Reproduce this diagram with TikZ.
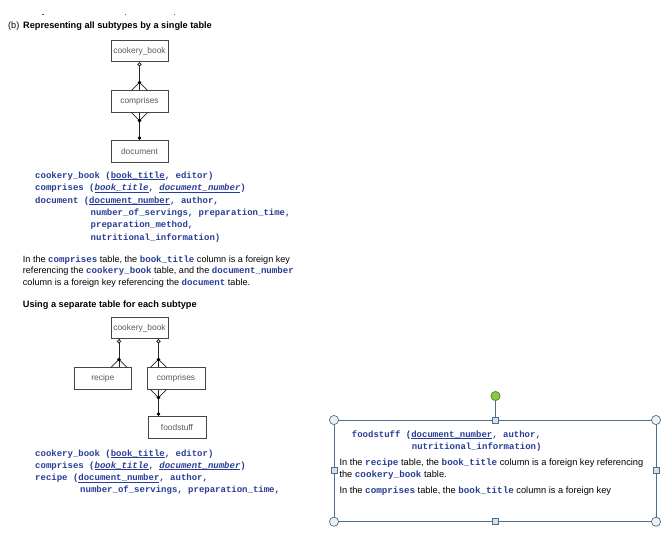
\documentclass[tikz,border=0pt]{standalone}
\usepackage{fontspec}
\setmainfont{Liberation Sans}
\newfontfamily\codefont{Liberation Mono}
\usetikzlibrary{calc}
\definecolor{codeblue}{RGB}{40,62,150}
\definecolor{boxgray}{RGB}{70,70,70}
\definecolor{labgray}{RGB}{90,90,90}
\definecolor{selline}{RGB}{85,110,135}
\definecolor{selfill}{RGB}{236,240,245}
\definecolor{sqfill}{RGB}{205,226,244}
\definecolor{grfill}{RGB}{140,200,70}
\definecolor{grline}{RGB}{95,140,50}
\newcommand\cd[1]{{\codefont\bfseries\color{codeblue}#1}}
\newcommand\ukey[1]{\sbox0{#1}\usebox0\kern-\wd0\rule[-1.9pt]{\wd0}{0.6pt}}
\tikzset{
  ent/.style={draw=boxgray, line width=0.7pt, minimum width=57pt, minimum height=21.5pt,
    inner sep=0pt, font=\fontsize{8.4}{10}\selectfont, text=labgray},
  conn/.style={draw=black!85, line width=0.8pt},
  code/.style={anchor=base west, inner sep=0pt, font=\codefont\bfseries\fontsize{9}{11}\selectfont, text=codeblue},
  body/.style={anchor=base west, inner sep=0pt, font=\fontsize{9.1}{11}\selectfont},
  bodyr/.style={anchor=base west, inner sep=0pt, font=\fontsize{9.25}{11}\selectfont},
  head/.style={anchor=base west, inner sep=0pt, font=\bfseries\fontsize{9.2}{11}\selectfont},
  corner/.style={draw=selline, fill=selfill, line width=0.7pt},
  sqhandle/.style={draw=selline, fill=sqfill, line width=0.7pt, minimum size=6pt, inner sep=0pt},
}
\newcommand\footup[1]{\draw[conn] ($(#1)+(-8,0)$) -- ($(#1)+(0,-8)$) -- ($(#1)+(8,0)$); \fill[black] ($(#1)+(0,-8)$) circle (1.9);}
\newcommand\footdown[1]{\draw[conn] ($(#1)+(-8,0)$) -- ($(#1)+(0,8)$) -- ($(#1)+(8,0)$); \fill[black] ($(#1)+(0,8)$) circle (1.9);}
\newcommand\opend[1]{\draw[conn, fill=white] ($(#1)+(0,2.2)$) circle (1.7);}
\newcommand\oned[1]{\fill[black] ($(#1)+(0,-2.4)$) circle (1.9);}
\begin{document}
\begin{tikzpicture}[x=1pt, y=-1pt]
\useasboundingbox (0,0) rectangle (672,536);
\fill[white] (0,0) rectangle (672,536);
% fragments of the cut line above
\fill[black!70] (41.5,14) rectangle (44,15.2);
\fill[black!60] (124.5,14) rectangle (125.7,15.2);
\fill[black!60] (173.5,14) rectangle (174.7,15.2);
% heading
\node[body] (hb) at (8,28) {(b)};
\node[head] (ht) at (23,28) {Representing all subtypes by a single table};
% first diagram
\node[ent] (cb1) at (139.5,51) {cookery\_book};
\node[ent] (cp1) at (139.5,101.5) {comprises};
\node[ent] (dc1) at (139.5,151.5) {document};
\draw[conn] (cb1.south) -- (cp1.north);
\draw[conn] (cp1.south) -- (dc1.north);
\opend{cb1.south}
\footup{cp1.north}
\footdown{cp1.south}
\oned{dc1.north}
% first code block
\node[code] (c1) at (35,178) {cookery\_book (\ukey{book\_title}, editor)};
\node[code] (c2) at (35,190.5) {comprises (\ukey{\itshape book\_title}, \ukey{\itshape document\_number})};
\node[code] (c3) at (35,203) {document (\ukey{document\_number}, author,};
\node[code] (c4) at (90.5,215.3) {number\_of\_servings, preparation\_time,};
\node[code] (c5) at (90.5,227.7) {preparation\_method,};
\node[code] (c6) at (90.5,240) {nutritional\_information)};
% paragraph
\node[body] (p1) at (22.7,262) {In the \cd{comprises} table, the \cd{book\_title} column is a foreign key};
\node[body] (p2) at (22.7,273.5) {referencing the \cd{cookery\_book} table, and the \cd{document\_number}};
\node[body] (p3) at (22.7,285) {column is a foreign key referencing the \cd{document} table.};
\node[head] (h2) at (22.7,307) {Using a separate table for each subtype};
% second diagram
\node[ent] (cb2) at (139.5,328) {cookery\_book};
\node[ent, minimum width=56.5pt] (rc) at (102.8,378.5) {recipe};
\node[ent, minimum width=58pt] (cp2) at (176,378.5) {comprises};
\node[ent, minimum width=58pt] (fs) at (177,427.5) {foodstuff};
\coordinate (lx1) at (119,0);
\coordinate (lx2) at (158.5,0);
\coordinate (a1) at (cb2.south -| lx1);
\coordinate (a2) at (rc.north -| lx1);
\coordinate (b1) at (cb2.south -| lx2);
\coordinate (b2) at (cp2.north -| lx2);
\coordinate (b3) at (cp2.south -| lx2);
\coordinate (b4) at (fs.north -| lx2);
\draw[conn] (a1) -- (a2);
\draw[conn] (b1) -- (b2);
\draw[conn] (b3) -- (b4);
\opend{a1}
\opend{b1}
\footup{a2}
\footup{b2}
\footdown{b3}
\oned{b4}
% second code block
\node[code] (d1) at (35,456) {cookery\_book (\ukey{book\_title}, editor)};
\node[code] (d2) at (35,468) {comprises (\ukey{\itshape book\_title}, \ukey{\itshape document\_number})};
\node[code] (d3) at (35,480.3) {recipe (\ukey{document\_number}, author,};
\node[code] (d4) at (80,492.7) {number\_of\_servings, preparation\_time,};
% selection frame
\draw[selline, line width=0.9pt] (334,420) rectangle (656,521.7);
\draw[selline, line width=0.9pt] (495.5,396) -- (495.5,420);
\fill[corner] (334,420) circle (4.6);
\fill[corner] (656,420) circle (4.6);
\fill[corner] (334,521.7) circle (4.6);
\fill[corner] (656,521.7) circle (4.6);
\node[sqhandle] (s1) at (495.5,420) {};
\node[sqhandle] (s2) at (495.5,521.7) {};
\node[sqhandle] (s3) at (334,470.8) {};
\node[sqhandle] (s4) at (656,470.8) {};
\draw[draw=grline, fill=grfill, line width=0.8pt] (495.5,396) circle (4.6);
% text inside frame
\node[code] (e1) at (351.7,437) {foodstuff (\ukey{document\_number}, author,};
\node[code] (e2) at (411.7,449.5) {nutritional\_information)};
\node[bodyr] (q1) at (339.3,465) {In the \cd{recipe} table, the \cd{book\_title} column is a foreign key referencing};
\node[bodyr] (q2) at (339.3,477) {the \cd{cookery\_book} table.};
\node[bodyr] (q3) at (339.3,493.5) {In the \cd{comprises} table, the \cd{book\_title} column is a foreign key};
\end{tikzpicture}
\end{document}
